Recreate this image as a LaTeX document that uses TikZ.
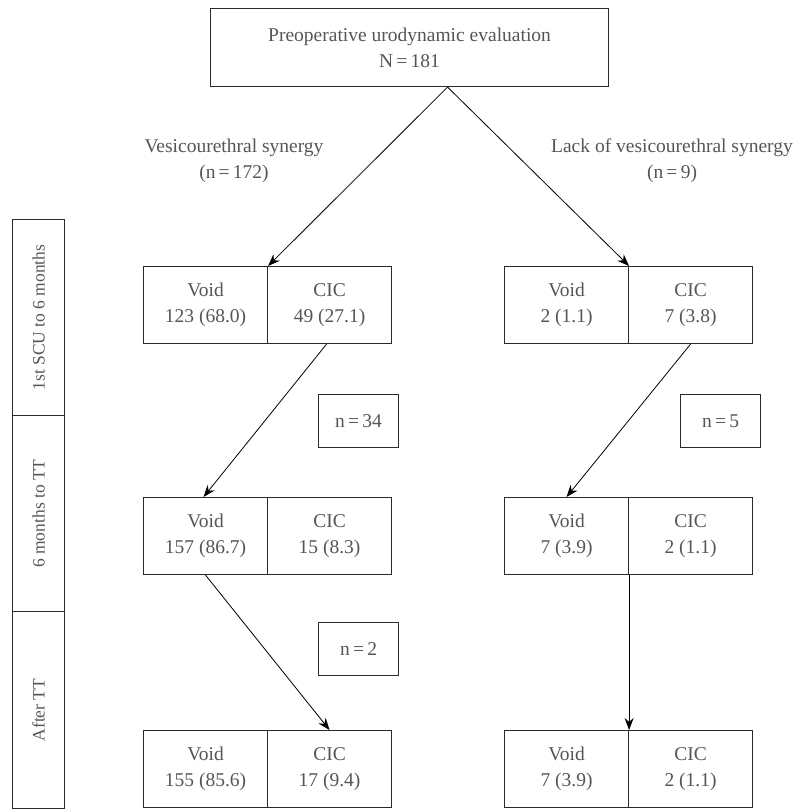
\documentclass[tikz,border=0pt]{standalone}
\usepackage{fontspec}
\setmainfont{Liberation Serif}
\usetikzlibrary{arrows.meta}
\definecolor{txt}{HTML}{555555}
\definecolor{edge}{HTML}{2A2A2A}
\begin{document}
\begin{tikzpicture}[x=1pt,y=-1pt,
  every node/.style={font=\fontsize{19.5}{26}\selectfont, text=txt},
  cell/.style={draw=edge, line width=1.1pt, minimum width=124pt, minimum height=77pt, inner sep=0pt, align=center, anchor=north west},
  nbox/.style={draw=edge, line width=1.1pt, minimum width=80pt, minimum height=53pt, inner sep=0pt, anchor=north west},
  tbox/.style={draw=edge, line width=1.1pt, minimum width=52pt, inner sep=0pt, anchor=north west},
  vlab/.style={rotate=90, font=\fontsize{17.5}{22}\selectfont},
  lab/.style={align=center},
  arr/.style={-{Stealth[length=12pt,width=9pt]}, line width=0.8pt, draw=black}]
\useasboundingbox (0,0) rectangle (795,810);
% top
\node[draw=edge, line width=1.1pt, minimum width=398pt, minimum height=78pt, anchor=north west, align=center, inner sep=0pt] (top) at (210,8) {Preoperative urodynamic evaluation\\N\,=\,181};
% labels
\node[lab] (lv) at (234,161) {Vesicourethral synergy\\(n\,=\,172)};
\node[lab] (lr) at (672,161) {Lack of vesicourethral synergy\\(n\,=\,9)};
% timeline
\node[tbox, minimum height=196pt] (t1) at (12,219) {};
\node[vlab] at (t1.center) {1st SCU to 6 months};
\node[tbox, minimum height=196pt] (t2) at (12,415) {};
\node[vlab] at (t2.center) {6 months to TT};
\node[tbox, minimum height=197pt] (t3) at (12,611) {};
\node[vlab] at (t3.center) {After TT};
% row 1
\node[cell] (r1lv) at (143,266) {Void\\123 (68.0)};
\node[cell] (r1lc) at (267,266) {CIC\\49 (27.1)};
\node[cell] (r1rv) at (504,266) {Void\\2 (1.1)};
\node[cell] (r1rc) at (628,266) {CIC\\7 (3.8)};
% row 2
\node[cell] (r2lv) at (143,497) {Void\\157 (86.7)};
\node[cell] (r2lc) at (267,497) {CIC\\15 (8.3)};
\node[cell] (r2rv) at (504,497) {Void\\7 (3.9)};
\node[cell] (r2rc) at (628,497) {CIC\\2 (1.1)};
% row 3
\node[cell] (r3lv) at (143,730) {Void\\155 (85.6)};
\node[cell] (r3lc) at (267,730) {CIC\\17 (9.4)};
\node[cell] (r3rv) at (504,730) {Void\\7 (3.9)};
\node[cell] (r3rc) at (628,730) {CIC\\2 (1.1)};
% n boxes
\node[nbox] (n34) at (318,394) {n\,=\,34};
\node[nbox] (n5) at (680,394) {n\,=\,5};
\node[nbox] (n2) at (318,622) {n\,=\,2};
% arrows
\draw[arr] ([xshift=38pt]top.south) -- (r1lv.north east);
\draw[arr] ([xshift=38pt]top.south) -- (r1rv.north east);
\draw[arr] ([xshift=-3pt]r1lc.south) -- ([xshift=-2pt]r2lv.north);
\draw[arr] (r1rc.south) -- (r2rv.north);
\draw[arr] (r2lv.south) -- (r3lc.north);
\draw[arr] (r2rv.south east) -- (r3rv.north east);
\end{tikzpicture}
\end{document}
